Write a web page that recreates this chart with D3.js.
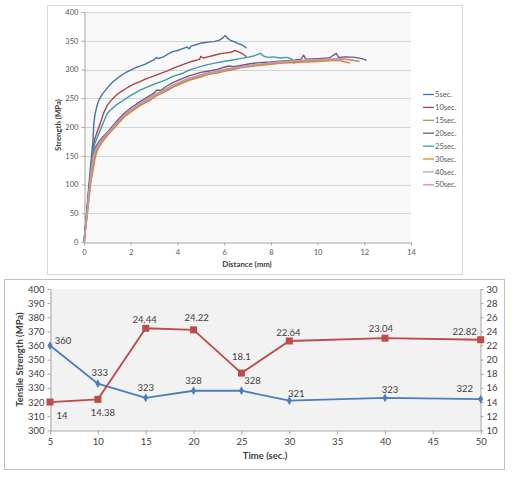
<!DOCTYPE html>
<html><head><meta charset="utf-8">
<script src="https://cdn.jsdelivr.net/npm/d3@7"></script>
<style>body{margin:0;background:#fff}svg{display:block}text{font-family:Lato,"Open Sans",sans-serif}</style>
</head><body><svg id="c" width="513" height="477"></svg>
<script>
// ---------- Top chart data (distance mm, strength MPa) ----------
const seriesNames = ["5sec.","10sec.","15sec.","20sec.","25sec.","30sec.","40sec.","50sec."];
const s5 = [[0,0],[0.1,45],[0.2,95],[0.3,140],[0.38,175],[0.42,205],[0.47,222],[0.55,236],[0.65,248],[0.8,258],[1.0,268],[1.2,277],[1.4,284],[1.6,290],[1.8,295],[2.0,299],[2.2,303],[2.4,306],[2.6,309],[2.8,313],[3.0,317],[3.1,321],[3.2,319],[3.4,322],[3.6,327],[3.8,331],[4.0,333],[4.2,336],[4.4,339],[4.5,336],[4.6,341],[4.8,343],[5.0,346],[5.2,347],[5.4,348],[5.6,349],[5.8,351],[5.95,355],[6.05,359],[6.15,354],[6.3,350],[6.45,348],[6.6,345],[6.75,343],[6.9,339],[6.96,337]];
const s10 = [[0,0],[0.1,42],[0.2,88],[0.3,130],[0.38,160],[0.45,178],[0.55,190],[0.7,207],[0.85,225],[1.0,238],[1.2,248],[1.4,256],[1.6,262],[1.8,267],[2.0,272],[2.2,276],[2.4,279],[2.6,283],[2.8,286],[3.0,289],[3.2,292],[3.4,295],[3.6,298],[3.8,302],[4.0,305],[4.2,308],[4.4,311],[4.6,314],[4.8,316],[4.95,318],[5.0,323],[5.1,320],[5.3,322],[5.5,324],[5.7,326],[5.9,328],[6.1,329],[6.3,330],[6.45,333],[6.6,331],[6.7,329],[6.8,327],[6.9,324],[6.96,322]];
const s15 = [[0,0],[0.1,35],[0.2,75],[0.3,110],[0.4,135],[0.45,150],[0.55,160],[0.7,172],[1.0,186],[1.4,204],[1.7,217],[2.0,227],[2.4,238],[2.8,247],[3.1,255],[3.5,263],[3.8,270],[4.2,277],[4.5,282],[5.0,288],[5.3,292],[5.7,295],[6.0,298],[6.4,302],[6.7,304],[7.1,306],[7.5,308],[8.0,310],[8.5,312],[9.0,313],[9.5,315],[10.0,316],[10.5,317],[11.0,318],[11.4,317],[11.8,314]];
const s20 = [[0,0],[0.1,40],[0.2,82],[0.3,122],[0.38,152],[0.45,162],[0.55,169],[0.7,178],[1.0,191],[1.4,210],[1.7,223],[2.0,233],[2.4,244],[2.8,254],[3.0,259],[3.1,264],[3.3,264],[3.5,270],[3.8,277],[4.2,284],[4.5,289],[5.0,295],[5.3,297],[5.7,300],[6.0,304],[6.2,306],[6.4,305],[6.7,307],[7.1,310],[7.5,312],[8.0,313],[8.5,315],[9.0,316],[9.3,318],[9.4,325],[9.5,318],[10.0,319],[10.5,320],[10.8,328],[10.9,321],[11.2,322],[11.6,321],[11.9,319],[12.1,316]];
const s25 = [[0,0],[0.1,42],[0.2,86],[0.3,128],[0.38,155],[0.45,170],[0.6,185],[0.8,205],[1.0,224],[1.2,232],[1.4,239],[1.7,247],[2.0,255],[2.4,264],[2.8,271],[3.1,276],[3.5,282],[3.8,288],[4.2,293],[4.5,299],[4.9,304],[5.25,308],[5.6,311],[5.97,314],[6.3,316],[6.68,319],[7.0,321],[7.3,324],[7.55,328],[7.7,323],[7.9,321],[8.1,322],[8.4,320],[8.7,321],[8.9,318],[9.0,311],[9.05,317]];
const s30 = [[0,0],[0.1,33],[0.2,70],[0.3,105],[0.4,128],[0.45,140],[0.5,150],[0.6,162],[0.75,172],[1.0,185],[1.4,203],[1.7,216],[2.0,226],[2.4,237],[2.8,246],[3.1,254],[3.5,262],[3.8,269],[4.2,276],[4.5,281],[5.0,287],[5.3,291],[5.7,294],[6.0,297],[6.4,300],[6.7,303],[7.1,305],[7.5,307],[8.0,309],[8.5,311],[9.0,312],[9.5,313],[10.0,314],[10.5,315],[10.9,316],[11.2,313],[11.4,311]];
const s40 = [[0,0],[0.1,38],[0.2,80],[0.3,118],[0.4,148],[0.5,162],[0.7,174],[1.0,188],[1.4,206],[1.7,219],[2.0,229],[2.4,240],[2.8,249],[3.1,257],[3.5,265],[3.8,272],[4.2,279],[4.5,284],[5.0,290],[5.3,293],[5.7,296],[6.0,299],[6.4,302],[6.7,304],[7.1,307],[7.5,309],[8.0,312],[8.5,314],[9.0,315],[9.5,316],[10.0,317],[10.5,318],[11.0,317]];
const s50 = [[0,0],[0.1,37],[0.2,78],[0.3,116],[0.4,145],[0.5,160],[0.7,175],[1.0,189],[1.4,207],[1.7,220],[2.0,230],[2.4,241],[2.8,251],[3.1,258],[3.5,266],[3.8,273],[4.2,280],[4.5,285],[5.0,291],[5.3,294],[5.7,297],[6.0,300],[6.4,303],[6.7,305],[7.1,307],[7.5,309],[8.0,311],[8.5,313],[9.0,315],[9.5,316],[10.0,317],[10.5,318],[11.0,319],[11.4,317],[11.6,315]];
const topXTicks = [0,2,4,6,8,10,12,14];
const topYTicks = [0,50,100,150,200,250,300,350,400];
const seriesColors = ["#4572A7","#AA4643","#89A54E","#71588F","#4198AF","#DB843D","#93A9CF","#D19392"];

// ---------- Bottom chart data ----------
const times = [5,10,15,20,25,30,40,50];
const tensile = [360,333,323,328,328,321,323,322];
const secondSeries = [14,14.38,24.44,24.22,18.1,22.64,23.04,22.82];
const botXTicks = [5,10,15,20,25,30,35,40,45,50];
const botYTicks = [300,310,320,330,340,350,360,370,380,390,400];
const botY2Ticks = [10,12,14,16,18,20,22,24,26,28,30];
// label offsets (px) for data labels
const tensileLabelOff = [[13,-5],[2,-11],[0,-10],[0,-10],[11,-10],[7,-7],[5,-8],[-16,-11]];
const secondLabelOff = [[12,14],[5,13],[-1,-9],[3,-12],[0,-16],[-1,-8],[-4,-9],[-16,-8]];

const svg = d3.select("#c");
const allSeries = [s5,s10,s15,s20,s25,s30,s40,s50];

// ===== Top chart =====
svg.append("rect").attr("x",47.5).attr("y",5.5).attr("width",415).attr("height",269).attr("fill","#fff").attr("stroke","#d9d9d9");
const tx = d3.scaleLinear().domain([0,14]).range([84,411]);
const ty = d3.scaleLinear().domain([0,400]).range([242,12]);
svg.append("rect").attr("x",84).attr("y",12).attr("width",327).attr("height",230).attr("fill","#f8f8f8");
svg.append("g").selectAll("line").data(topYTicks.filter(v=>v>0)).join("line")
  .attr("x1",84).attr("x2",411).attr("y1",d=>Math.round(ty(d))+0.5).attr("y2",d=>Math.round(ty(d))+0.5)
  .attr("stroke","#d4d4d4").attr("stroke-width",1);
const gtx = svg.append("g").attr("transform","translate(0,242.5)")
  .call(d3.axisBottom(tx).tickValues(topXTicks).tickSize(3).tickSizeOuter(0).tickPadding(4));
const gty = svg.append("g").attr("transform","translate(84.5,0)")
  .call(d3.axisLeft(ty).tickValues(topYTicks).tickSize(3).tickSizeOuter(0).tickPadding(3));
[gtx,gty].forEach(g=>{
  g.selectAll("path,line").attr("stroke","#a6a6a6");
  g.selectAll("text").attr("fill","#595959").style("font-size","7.6px");
});
const lineTop = d3.line().x(d=>tx(d[0])).y(d=>ty(d[1]));
svg.append("g").selectAll("path").data(allSeries).join("path")
  .attr("d",lineTop).attr("fill","none").attr("stroke",(d,i)=>seriesColors[i])
  .attr("stroke-width",1.4).attr("stroke-linejoin","round");
svg.append("text").attr("x",247).attr("y",266.5).attr("text-anchor","middle")
  .style("font-size","7.8px").style("font-weight","bold").attr("fill","#404040").text("Distance (mm)");
svg.append("text").attr("transform","translate(60.5,125) rotate(-90)").attr("text-anchor","middle")
  .style("font-size","7.8px").style("font-weight","bold").attr("fill","#404040").text("Strength (MPa)");
const leg = svg.append("g").selectAll("g").data(seriesNames).join("g")
  .attr("transform",(d,i)=>`translate(423,${94.5+i*12.9})`);
leg.append("line").attr("x1",0).attr("x2",11).attr("stroke",(d,i)=>seriesColors[i]).attr("stroke-width",1.3);
leg.append("text").attr("x",12).attr("dy","0.35em").style("font-size","7.6px").attr("fill","#595959").text(d=>d);

// ===== Bottom chart =====
svg.append("rect").attr("x",4.5).attr("y",279.5).attr("width",500).attr("height",190).attr("fill","#fff").attr("stroke","#bfbfbf");
const bx = d3.scaleLinear().domain([5,50]).range([50,480.7]);
const by = d3.scaleLinear().domain([300,400]).range([430.3,289]);
const by2 = d3.scaleLinear().domain([10,30]).range([430.3,289]);
svg.append("rect").attr("x",50).attr("y",289).attr("width",430.7).attr("height",141.3).attr("fill","#f2f2f2");
const gbx = svg.append("g").attr("transform","translate(0,430.5)")
  .call(d3.axisBottom(bx).tickValues(botXTicks).tickSize(4).tickSizeOuter(0).tickPadding(4));
const gby = svg.append("g").attr("transform","translate(50.5,0)")
  .call(d3.axisLeft(by).tickValues(botYTicks).tickSize(3).tickSizeOuter(0).tickPadding(3));
const gby2 = svg.append("g").attr("transform","translate(480.5,0)")
  .call(d3.axisRight(by2).tickValues(botY2Ticks).tickSize(3).tickSizeOuter(0).tickPadding(3));
[gbx,gby,gby2].forEach(g=>{
  g.selectAll("path,line").attr("stroke","#a6a6a6");
  g.selectAll("text").attr("fill","#404040").style("font-size","9.5px");
});
const blueLine = d3.line().x((d,i)=>bx(times[i])).y(d=>by(d));
const redLine = d3.line().x((d,i)=>bx(times[i])).y(d=>by2(d));
svg.append("path").attr("d",blueLine(tensile)).attr("fill","none").attr("stroke","#4A7EBB").attr("stroke-width",1.8);
svg.append("path").attr("d",redLine(secondSeries)).attr("fill","none").attr("stroke","#BE4B48").attr("stroke-width",1.8);
svg.append("g").selectAll("path").data(tensile).join("path")
  .attr("d",d3.symbol(d3.symbolDiamond,22)())
  .attr("transform",(d,i)=>`translate(${bx(times[i])},${by(d)})`).attr("fill","#4A7EBB");
svg.append("g").selectAll("rect").data(secondSeries).join("rect")
  .attr("x",(d,i)=>bx(times[i])-3.5).attr("y",d=>by2(d)-3.5).attr("width",7).attr("height",7).attr("fill","#BE4B48");
svg.append("g").selectAll("text").data(tensile).join("text")
  .attr("x",(d,i)=>bx(times[i])+tensileLabelOff[i][0]).attr("y",(d,i)=>by(d)+tensileLabelOff[i][1])
  .attr("dy","0.35em").attr("text-anchor","middle").style("font-size","9.5px").attr("fill","#404040").text(d=>d);
svg.append("g").selectAll("text").data(secondSeries).join("text")
  .attr("x",(d,i)=>bx(times[i])+secondLabelOff[i][0]).attr("y",(d,i)=>by2(d)+secondLabelOff[i][1])
  .attr("dy","0.35em").attr("text-anchor","middle").style("font-size","9.5px").attr("fill","#404040").text(d=>d);
svg.append("text").attr("x",265).attr("y",459).attr("text-anchor","middle")
  .style("font-size","9.5px").style("font-weight","bold").attr("fill","#404040").text("Time (sec.)");
svg.append("text").attr("transform","translate(23,359.6) rotate(-90)").attr("text-anchor","middle")
  .style("font-size","9.5px").style("font-weight","bold").attr("fill","#404040").text("Tensile Strength (MPa)");
</script></body></html>
